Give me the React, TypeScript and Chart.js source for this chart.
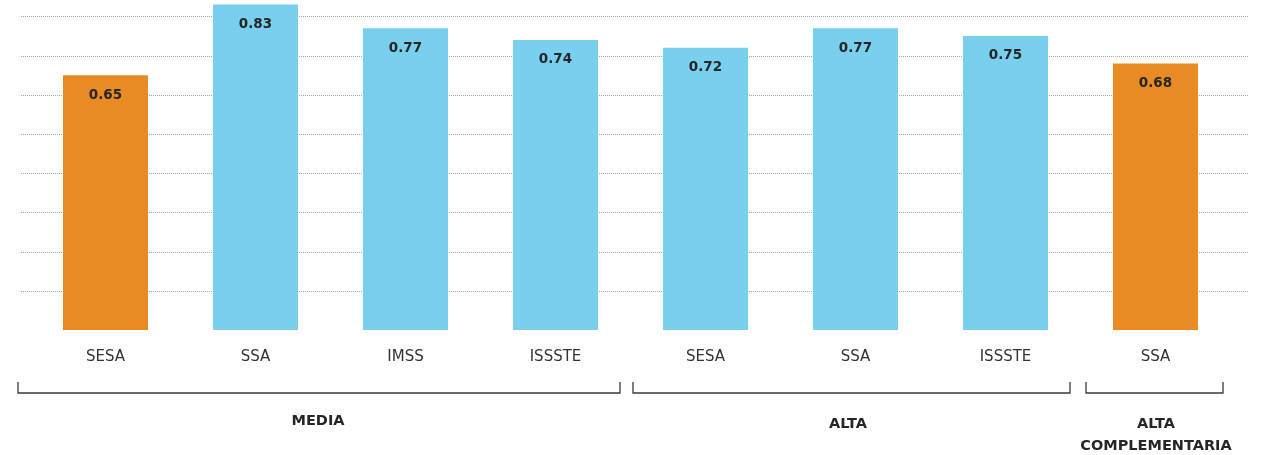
import React, { useEffect, useRef } from "react";
import { Chart, registerables } from "chart.js";

Chart.register(...registerables);

const categories = ["SESA", "SSA", "IMSS", "ISSSTE", "SESA", "SSA", "ISSSTE", "SSA"];
const values = [0.65, 0.83, 0.77, 0.74, 0.72, 0.77, 0.75, 0.68];
const highlighted = [true, false, false, false, false, false, false, true];
const groupLabels = [["MEDIA"], ["ALTA"], ["ALTA", "COMPLEMENTARIA"]];
const groupStart = [0, 4, 7];
const groupEnd = [3, 6, 7];
const gridValues = [0.1, 0.2, 0.3, 0.4, 0.5, 0.6, 0.7, 0.8];

const ORANGE = "#E88B24";
const BLUE = "#78D0EE";
const FONT = "'DejaVu Sans', sans-serif";

// bracket insets relative to the category band edges (pixels)
const bracketInsetLeft = [-12.5, 2.5, 5.5];
const bracketInsetRight = [-10.5, -10.5, -7.5];
const labelShift = [-1, -3.5, 1.5];
const labelBaseline = [425, 428.3, 427.7];

const overlay = {
  id: "overlay",
  beforeDatasetsDraw(chart: any) {
    const ctx = chart.ctx;
    const y = chart.scales.y;
    ctx.save();
    ctx.strokeStyle = "#a6a6a6";
    ctx.lineWidth = 1;
    ctx.setLineDash([1, 1]);
    gridValues.forEach((v) => {
      const py = Math.round(y.getPixelForValue(v)) + 0.5;
      ctx.beginPath();
      ctx.moveTo(21, py);
      ctx.lineTo(1248, py);
      ctx.stroke();
    });
    ctx.restore();
  },
  afterDatasetsDraw(chart: any) {
    const ctx = chart.ctx;
    const x = chart.scales.x;
    const meta = chart.getDatasetMeta(0);
    ctx.save();
    ctx.textAlign = "center";
    ctx.textBaseline = "alphabetic";
    // value labels
    ctx.fillStyle = "#262626";
    ctx.font = `bold 13.5px ${FONT}`;
    meta.data.forEach((bar: any, i: number) => {
      ctx.fillText(values[i].toFixed(2), bar.x, bar.y + 23.5);
    });
    // category labels
    ctx.fillStyle = "#333333";
    ctx.font = `15px ${FONT}`;
    categories.forEach((c, i) => {
      ctx.fillText(c, x.getPixelForValue(i), 361);
    });
    // brackets
    const half = (x.getPixelForValue(1) - x.getPixelForValue(0)) / 2;
    ctx.strokeStyle = "#3a3a3a";
    ctx.lineWidth = 1.3;
    groupLabels.forEach((lines, g) => {
      const l = x.getPixelForValue(groupStart[g]) - half + bracketInsetLeft[g];
      const r = x.getPixelForValue(groupEnd[g]) + half + bracketInsetRight[g];
      ctx.beginPath();
      ctx.moveTo(l, 382);
      ctx.lineTo(l, 393);
      ctx.lineTo(r, 393);
      ctx.lineTo(r, 382);
      ctx.stroke();
      ctx.fillStyle = "#262626";
      ctx.font = `bold 14.5px ${FONT}`;
      const cx = (l + r) / 2 + labelShift[g];
      lines.forEach((t, k) => {
        ctx.fillText(t, cx, labelBaseline[g] + k * 22.5);
      });
    });
    ctx.restore();
  },
};

export default function App() {
  const ref = useRef<HTMLCanvasElement>(null);
  useEffect(() => {
    if (!ref.current) return;
    const chart = new Chart(ref.current, {
      type: "bar",
      data: {
        labels: categories,
        datasets: [
          {
            data: values,
            backgroundColor: highlighted.map((h) => (h ? ORANGE : BLUE)),
            borderWidth: 0,
            barPercentage: 85 / 150,
            categoryPercentage: 1,
          },
        ],
      },
      options: {
        responsive: false,
        animation: false,
        devicePixelRatio: 1,
        layout: { padding: { left: 30.5, right: 30.5, top: 0.7, bottom: 125 } },
        plugins: { legend: { display: false }, tooltip: { enabled: false } },
        scales: {
          x: { display: false },
          y: { display: false, min: 0, max: 0.84 },
        },
      },
      plugins: [overlay],
    });
    return () => chart.destroy();
  }, []);
  return (
    <div style={{ position: "absolute", left: 0, top: 0, width: 1261, height: 455, background: "#fff" }}>
      <canvas ref={ref} width={1261} height={455} />
    </div>
  );
}
